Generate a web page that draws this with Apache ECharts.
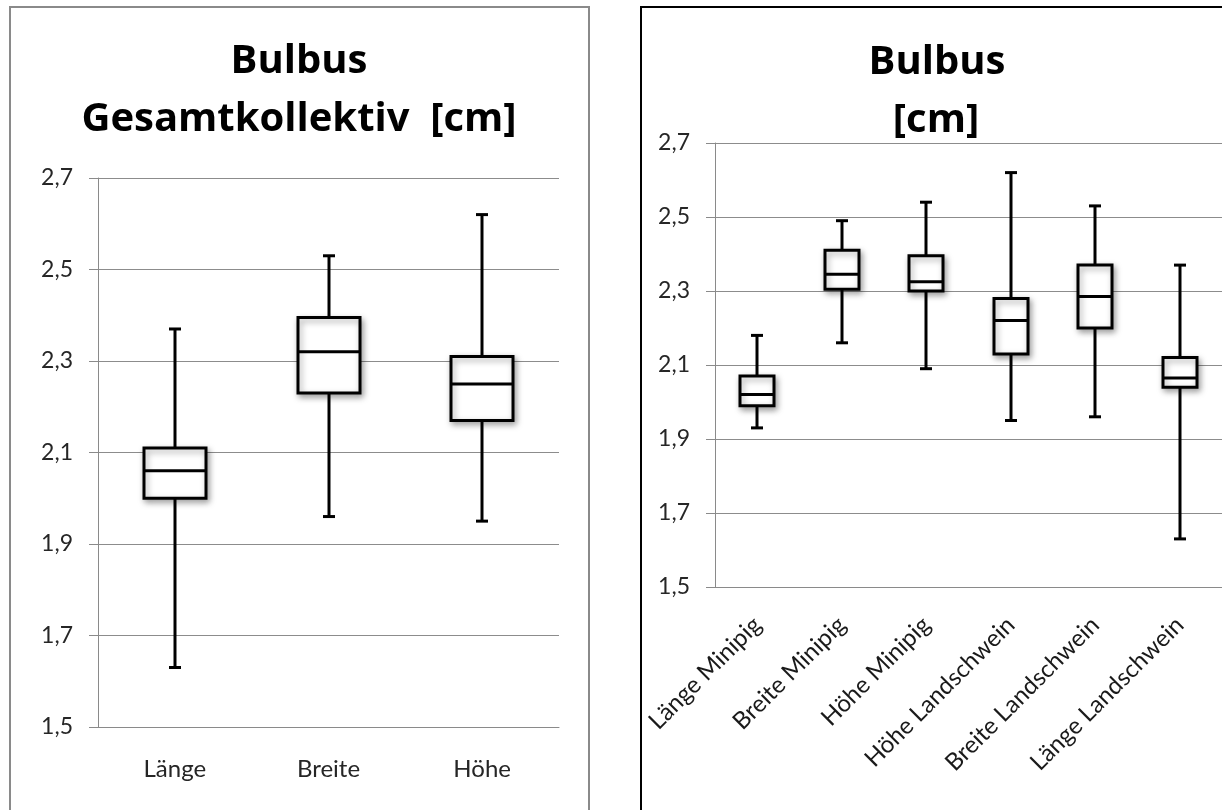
<!DOCTYPE html>
<html>
<head>
<meta charset="utf-8">
<script src="https://cdn.jsdelivr.net/npm/echarts@6/dist/echarts.min.js"></script>
<style>
html, body { margin: 0; padding: 0; background: #fff; }
#chart { width: 1222px; height: 810px; }
</style>
</head>
<body>
<div id="chart"></div>
<script>
// y scale shared by both panels
var yMin = 1.5;
var yMax = 2.7;
var yStep = 0.2;

// left panel: whole collective
var catsAll = ['Länge', 'Breite', 'Höhe'];
var lowAll  = [1.63, 1.96, 1.95];
var q1All   = [2.00, 2.23, 2.17];
var medAll  = [2.06, 2.32, 2.25];
var q3All   = [2.11, 2.395, 2.31];
var highAll = [2.37, 2.53, 2.62];

// right panel: by breed
var catsBreed = ['Länge Minipig', 'Breite Minipig', 'Höhe Minipig', 'Höhe Landschwein', 'Breite Landschwein', 'Länge Landschwein'];
var lowBreed  = [1.93, 2.16, 2.09, 1.95, 1.96, 1.63];
var q1Breed   = [1.99, 2.305, 2.30, 2.13, 2.20, 2.04];
var medBreed  = [2.02, 2.345, 2.325, 2.22, 2.285, 2.065];
var q3Breed   = [2.07, 2.41, 2.395, 2.28, 2.37, 2.12];
var highBreed = [2.18, 2.49, 2.54, 2.62, 2.53, 2.37];

function rows(low, q1, med, q3, high) {
    return low.map(function (v, i) { return [i, v, q1[i], med[i], q3[i], high[i]]; });
}

function renderBox(params, api) {
    var i = api.value(0);
    var lo = api.coord([i, api.value(1)]);
    var b1 = api.coord([i, api.value(2)]);
    var md = api.coord([i, api.value(3)]);
    var b3 = api.coord([i, api.value(4)]);
    var hi = api.coord([i, api.value(5)]);
    var cx = Math.round(lo[0]);
    var half = Math.round(api.size([1, 0])[0] * 0.2);
    var cap = 6;
    var ln = { stroke: '#000', lineWidth: 3 };
    return {
        type: 'group',
        children: [
            { type: 'line', shape: { x1: cx, y1: hi[1], x2: cx, y2: b3[1] }, style: ln },
            { type: 'line', shape: { x1: cx, y1: b1[1], x2: cx, y2: lo[1] }, style: ln },
            { type: 'line', shape: { x1: cx - cap, y1: hi[1], x2: cx + cap, y2: hi[1] }, style: ln },
            { type: 'line', shape: { x1: cx - cap, y1: lo[1], x2: cx + cap, y2: lo[1] }, style: ln },
            {
                type: 'rect',
                shape: { x: cx - half, y: b3[1], width: half * 2, height: b1[1] - b3[1] },
                style: {
                    fill: '#fff', stroke: '#000', lineWidth: 3,
                    shadowBlur: 6, shadowColor: 'rgba(0,0,0,0.35)', shadowOffsetX: 2, shadowOffsetY: 3
                }
            },
            { type: 'line', shape: { x1: cx - half, y1: md[1], x2: cx + half, y2: md[1] }, style: ln }
        ]
    };
}

function yAxisOpt(idx) {
    return {
        type: 'value', gridIndex: idx,
        min: yMin, max: yMax, interval: yStep,
        axisLine: { show: true, lineStyle: { color: '#8a8a8a', width: 1 } },
        axisTick: { show: true, length: 9, lineStyle: { color: '#8a8a8a' } },
        splitLine: { lineStyle: { color: '#8c8c8c', width: 1 } },
        axisLabel: {
            color: '#262626', fontFamily: 'Lato', fontSize: 23, margin: 25,
            formatter: function (v) { return v.toFixed(1).replace('.', ','); }
        }
    };
}

var titleFont = 'bold 40px "Open Sans"';

var chart = echarts.init(document.getElementById('chart'));
chart.setOption({
    animation: false,
    backgroundColor: '#fff',
    graphic: [
        { type: 'rect', shape: { x: 10, y: 7, width: 579, height: 840 }, style: { fill: 'none', stroke: '#8a8a8a', lineWidth: 2 } },
        { type: 'rect', shape: { x: 641, y: 7, width: 620, height: 840 }, style: { fill: 'none', stroke: '#000', lineWidth: 2 } },
        { type: 'text', x: 299, y: 82, style: { text: 'Bulbus', font: titleFont, fill: '#000', textAlign: 'center', textVerticalAlign: 'bottom' } },
        { type: 'text', x: 299, y: 140, style: { text: 'Gesamtkollektiv  [cm]', font: titleFont, fill: '#000', textAlign: 'center', textVerticalAlign: 'bottom' } },
        { type: 'text', x: 937, y: 83, style: { text: 'Bulbus', font: titleFont, fill: '#000', textAlign: 'center', textVerticalAlign: 'bottom' } },
        { type: 'text', x: 936, y: 141, style: { text: '[cm]', font: titleFont, fill: '#000', textAlign: 'center', textVerticalAlign: 'bottom' } }
    ],
    grid: [
        { left: 98, top: 178, width: 461, height: 549 },
        { left: 715, top: 143, right: -2, height: 444 }
    ],
    xAxis: [
        {
            type: 'category', gridIndex: 0, data: catsAll,
            axisLine: { lineStyle: { color: '#8a8a8a' } },
            axisTick: { length: 8, lineStyle: { color: '#8a8a8a' } },
            axisLabel: { color: '#262626', fontFamily: 'Lato', fontSize: 24, margin: 30 }
        },
        {
            type: 'category', gridIndex: 1, data: catsBreed,
            axisLine: { lineStyle: { color: '#8a8a8a' } },
            axisTick: { length: 8, lineStyle: { color: '#8a8a8a' } },
            axisLabel: { color: '#1a1a1a', fontFamily: 'Lato', fontSize: 24, rotate: 45, margin: 34, interval: 0 }
        }
    ],
    yAxis: [yAxisOpt(0), yAxisOpt(1)],
    series: [
        {
            type: 'custom', xAxisIndex: 0, yAxisIndex: 0,
            renderItem: renderBox,
            encode: { x: 0, y: [1, 2, 3, 4, 5] },
            data: rows(lowAll, q1All, medAll, q3All, highAll)
        },
        {
            type: 'custom', xAxisIndex: 1, yAxisIndex: 1,
            renderItem: renderBox,
            encode: { x: 0, y: [1, 2, 3, 4, 5] },
            data: rows(lowBreed, q1Breed, medBreed, q3Breed, highBreed)
        }
    ]
});
</script>
</body>
</html>
